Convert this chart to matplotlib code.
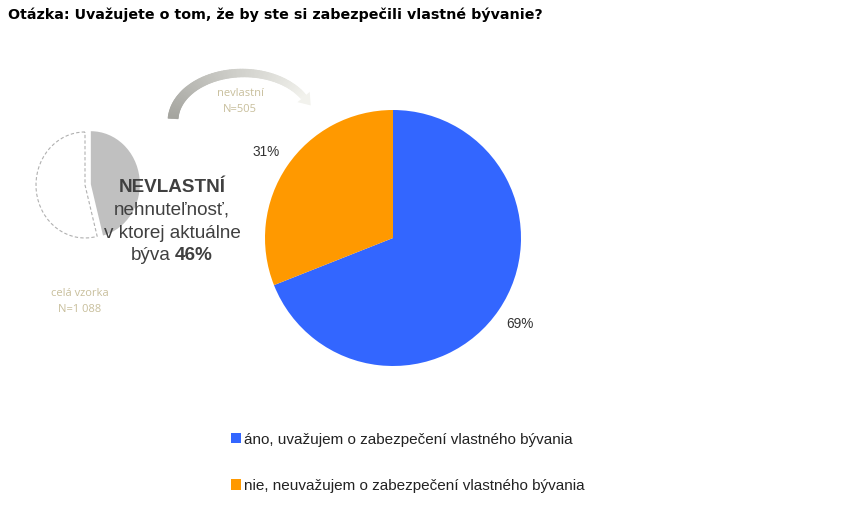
import numpy as np
import matplotlib
matplotlib.use('Agg')
import matplotlib.pyplot as plt
from matplotlib.collections import PolyCollection
import matplotlib.patches as mp

# data
title = u"Otázka: Uvažujete o tom, že by ste si zabezpečili vlastné bývanie?"
answers = [u"áno, uvažujem o zabezpečení vlastného bývania",
           u"nie, neuvažujem o zabezpečení vlastného bývania"]
shares = [69, 31]
colors = ['#3366ff', '#ff9900']

sample_shares = [46, 54]          # nevlastní vs. rest of sample
sample_label = [u"celá vzorka", u"N=1 088"]
sub_label = [u"nevlastní", u"N=505"]

W, H = 841, 523
fig = plt.figure(figsize=(W/100., H/100.), dpi=100)

def Y(y):
    # picture rows run downward
    return H - y

# small pie of the whole sample, slightly squashed like the original
scx, scy, srx, sry = 85, 185, 49, 53
box = (20, 118, 160, 252)   # px: left, top, right, bottom
sax = fig.add_axes([box[0]/W, 1 - box[3]/H, (box[2]-box[0])/W, (box[3]-box[1])/H])
sw, _ = sax.pie(sample_shares, colors=['#c0c0c0', 'white'], startangle=90,
                counterclock=False, explode=[0.12, 0],
                wedgeprops=dict(linewidth=0))
sw[1].set_edgecolor('#b0b0b0')
sw[1].set_linewidth(0.8)
sw[1].set_linestyle((0, (3, 2)))
sw[1].set_facecolor('none')
sax.set_aspect('auto')
sax.set_xlim((box[0]-scx)/float(srx), (box[2]-scx)/float(srx))
sax.set_ylim(-(box[3]-scy)/float(sry), (scy-box[1])/float(sry))
sax.axis('off')

ax = fig.add_axes([0, 0, 1, 1])

def reset():
    ax.set_xlim(0, W)
    ax.set_ylim(0, H)
    ax.set_aspect('equal')
    ax.axis('off')

tan = '#c8bf9c'
dark = '#404040'

# title
fig.text(8/W, 1 - 15/H, title, fontsize=10.3, fontweight='bold',
         family='DejaVu Sans', va='center', ha='left', color='black')

# main pie
wedges, texts, autotexts = ax.pie(shares, colors=colors, startangle=90,
                                  counterclock=False, center=(393, Y(238)),
                                  radius=128, autopct='%d%%', pctdistance=1.2,
                                  textprops=dict(fontsize=9.8, color='#333333',
                                                 family='Liberation Sans'),
                                  frame=True)
reset()

# central text
tf = 'Liberation Sans'
fs = 13.6
ax.text(172, Y(188), u"NEVLASTNÍ", fontsize=fs, fontweight='bold', color=dark,
        ha='center', va='center', family=tf)
ax.text(172, Y(210), u"nehnuteľnosť,", fontsize=fs, color=dark,
        ha='center', va='center', family=tf)
ax.text(172, Y(233), u"v ktorej aktuálne", fontsize=fs, color=dark,
        ha='center', va='center', family=tf)
ax.text(171, Y(255), u"býva", fontsize=fs, color=dark,
        ha='right', va='center', family=tf)
ax.text(175, Y(255), u"46%", fontsize=fs, color=dark, fontweight='bold',
        ha='left', va='center', family=tf)

# tan sample labels
for (x, y), s in zip([(80, 293), (80, 309), (240, 93), (240, 110)],
                     sample_label + sub_label):
    ax.text(x, Y(y), s, fontsize=8, color=tan, ha='center', va='center',
            family='Open Sans')

# curved arrow band, fading grey
t = np.linspace(np.radians(177), np.radians(30), 120)
cx, cy, rx, ry = 243, Y(121), 70, 48
f = np.linspace(0, 1, len(t))
half = 5.0 - 2.0 * f
xo, yo = cx + (rx + half) * np.cos(t), cy + (ry + half) * np.sin(t)
xi, yi = cx + (rx - half) * np.cos(t), cy + (ry - half) * np.sin(t)
c0 = np.array([0.64, 0.64, 0.62])
c1 = np.array([0.95, 0.95, 0.93])
polys, cols = [], []
for i in range(len(t) - 1):
    polys.append([(xo[i], yo[i]), (xo[i+1], yo[i+1]),
                  (xi[i+1], yi[i+1]), (xi[i], yi[i])])
    cols.append(tuple(c0 + (c1 - c0) * f[i]))
ax.add_collection(PolyCollection(polys, facecolors=cols, edgecolors=cols,
                                 linewidths=0.6))
# arrow head
ex, ey = cx + rx * np.cos(t[-1]), cy + ry * np.sin(t[-1])
tx, ty = rx * np.sin(t[-1]), -ry * np.cos(t[-1])
n = np.hypot(tx, ty)
dx, dy = tx / n, ty / n
px, py = -dy, dx
head = [(ex + px * 8, ey + py * 8), (ex - px * 8, ey - py * 8),
        (ex + dx * 11, ey + dy * 11)]
ax.add_patch(mp.Polygon(head, closed=True, color=tuple(c1), lw=0))
reset()

# legend
leg = fig.legend(wedges, answers, loc='upper left',
                 bbox_to_anchor=(217/W, 1 - 419/H), frameon=False,
                 prop=dict(family='Liberation Sans', size=11),
                 handlelength=0.65, handleheight=0.65, handletextpad=0.2,
                 labelspacing=2.1)
for txt in leg.get_texts():
    txt.set_color('#222222')

fig.savefig('out.png', dpi=100)
